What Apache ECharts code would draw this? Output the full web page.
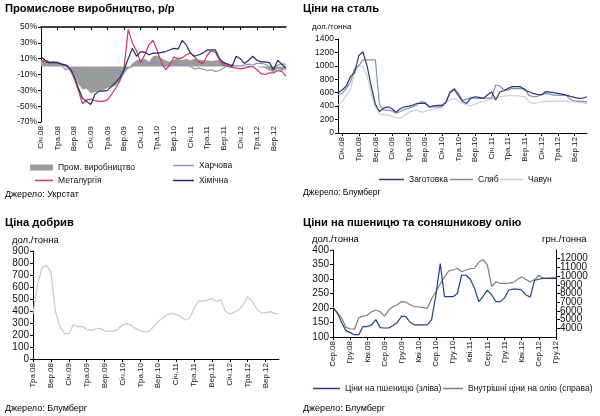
<!DOCTYPE html>
<html>
<head>
<meta charset="utf-8">
<script src="https://cdn.jsdelivr.net/npm/echarts@6/dist/echarts.min.js"></script>
<style>
html,body{margin:0;padding:0;background:#fff}
#main{width:600px;height:416px}
</style>
</head>
<body>
<div id="main"></div>
<script>
var FONT = 'Liberation Sans, Arial, sans-serif';
var monthNames = ['Січ','Лют','Бер','Кві','Тра','Чер','Лип','Сер','Вер','Жов','Лис','Гру'];

// промислове виробництво, р/р, % (січ.08 - гру.12)
var prodIndex = [8,7,6,6,6,4,3,0,-10,-22,-29,-28, -34,-32,-31,-30,-27,-26,-24,-18,-10,-2,4,8,
  9,10,6,13,14,11,8,6,9,10,8,10, 8,10,9,8,8,7,8,8,6,4,3,1, 0,1,-1,0,0,-1,-2,-5,-7,-3,-5,-4];
var foodIndex = [12,8,6,5,5,1,-4,-4,-7,-12,-15,-14, -14,-11,-13,-10,-8,-5,-7,-10,-4,-2,0,6,
  4,5,3,4,5,2,1,2,4,3,2,3, 0,-3,-2,-3,-5,-4,-6,-5,-2,3,2,1, 1,2,3,2,4,4,3,0,-2,2,3,3];
var metalIndex = [8,6,5,6,5,3,1,-4,-15,-30,-47,-42, -41,-43,-44,-44,-42,-35,-27,-18,-2,47,30,20,
  5,15,28,33,20,5,-4,2,12,10,11,15, 17,12,6,4,14,20,18,8,2,0,-1,-2, -3,-2,0,0,-4,-9,-10,-8,-8,-5,-6,-12];
var chemIndex = [12,8,5,5,5,3,2,-2,-12,-27,-40,-44, -48,-35,-31,-31,-30,-25,-20,-14,-4,10,23,13,
  19,18,15,17,17,18,19,21,23,22,33,27, 17,13,15,17,21,21,21,10,5,3,0,13, 10,4,8,13,8,6,6,5,-4,8,3,-2];

// ціни на сталь, дол./т (гру.07 - гру.12)
var billet = [600, 640,700,840,900,1150,1210,1000,700,430,320,370,390,
  360,310,360,390,400,415,440,440,440,390,405,410,
  410,460,600,650,560,470,440,520,540,530,515,565,
  615,490,610,630,665,690,690,690,640,615,590,575,
  570,615,610,600,590,580,565,545,530,515,520,540];
var slab = [570, 590,660,760,960,1000,1090,1090,1090,1090,420,340,340,
  330,295,320,350,370,390,415,465,460,390,390,390,
  390,450,615,665,590,480,505,520,520,515,520,520,
  520,715,700,640,640,665,660,665,660,560,540,545,
  570,590,580,565,565,560,560,500,480,475,470,465];
var pigIron = [420, 460,560,650,900,1000,990,850,600,390,280,270,270,
  250,230,220,260,310,330,340,310,320,340,350,370,
  390,450,500,510,470,440,420,405,430,460,470,490,
  510,520,540,550,555,555,555,550,540,470,440,450,
  465,470,470,470,475,475,470,465,465,460,450,440];

// ціна добрив, дол./т (тра.08 - гру.12)
var fertilizer = [376,620,760,780,725,400,270,215,210,285,270,272,245,240,250,255,235,232,232,250,
  285,295,280,255,235,225,230,270,315,340,370,380,370,355,325,340,420,482,482,490,
  505,480,490,400,376,390,410,450,520,480,420,385,385,395,380,375];

// пшениця, дол./т (зліва) та олія, грн./т (справа), сер.08 - гру.12
var wheat = [199,185,150,122,115,108,108,136,136,142,160,132,131,131,140,150,172,170,150,142,
  142,142,142,160,245,353,239,239,239,250,313,313,300,268,222,240,262,245,222,222,
  235,262,265,265,262,245,238,295,300,302,302,302,302];
var sunOil = [6500,5700,5200,4100,3950,3900,5200,5400,5500,5900,6100,5900,5400,6100,6500,6700,7070,7000,6700,6500,
  6450,6400,6300,7400,8200,9100,9900,10600,10700,10900,10500,10700,10850,10900,11600,11900,11300,8800,9350,9160,
  9160,9200,9250,9600,9900,9600,9350,9600,10100,9730,9730,9800,9900];

function monthCats(year, month, count) {
  var out = [];
  for (var i = 0; i < count; i++) {
    var m = (month + i) % 12;
    var y = year + Math.floor((month + i) / 12);
    out.push(monthNames[m] + '.' + String(y % 100).padStart(2, '0'));
  }
  return out;
}

var catsProd = monthCats(2008, 0, 60);
var catsSteel = monthCats(2007, 11, 61);
var catsFert = monthCats(2008, 4, 56);
var catsWheat = monthCats(2008, 7, 53);

var every4 = function (i) { return i % 4 === 0; };
var every4from1 = function (i) { return i % 4 === 1; };
var plain = function (v) { return String(v); };
var pct = function (v) { return v + '%'; };

function catAxis(grid, data, step, extra) {
  return Object.assign({
    type: 'category', gridIndex: grid, data: data, boundaryGap: false,
    axisLine: { onZero: false, lineStyle: { color: '#000', width: 1 } },
    axisTick: { interval: step, length: 3, lineStyle: { color: '#000' } },
    axisLabel: { interval: step, rotate: 90, fontSize: 8, color: '#111', fontFamily: FONT, margin: 4 },
    splitLine: { show: false }
  }, extra || {});
}

function valAxis(grid, min, max, step, fmt, size, extra) {
  return Object.assign({
    type: 'value', gridIndex: grid, min: min, max: max, interval: step,
    axisLine: { show: true, lineStyle: { color: '#000', width: 1 } },
    axisTick: { show: true, length: 3, lineStyle: { color: '#000' } },
    axisLabel: { fontSize: size, color: '#111', fontFamily: FONT, margin: 4, formatter: fmt },
    splitLine: { show: false }
  }, extra || {});
}

function lineSeries(name, xi, yi, data, color, width) {
  return {
    type: 'line', name: name, xAxisIndex: xi, yAxisIndex: yi, data: data,
    symbol: 'none', lineStyle: { color: color, width: width || 1.2 },
    itemStyle: { color: color }, animation: false
  };
}

function legendAt(name, left, top, w, box) {
  return {
    data: [{ name: name, icon: 'rect' }], left: left, top: top, padding: 0, itemGap: 0,
    itemWidth: w, itemHeight: box ? 6 : 1.5, selectedMode: false,
    textStyle: { fontSize: 8.5, color: '#111', fontFamily: FONT }
  };
}

function label(text, x, y, size, bold) {
  return {
    type: 'text', x: x, y: y,
    style: {
      text: text, fill: '#000', verticalAlign: 'middle',
      font: (bold ? 'bold ' : '') + size + 'px ' + FONT
    }
  };
}

function gridAt(left, top, width, height) {
  return { left: left, top: top, width: width, height: height, containLabel: false, outerBoundsMode: 'none' };
}

var chart = echarts.init(document.getElementById('main'), null, { renderer: 'canvas' });

chart.setOption({
  animation: false,
  backgroundColor: '#fff',
  graphic: [
    label('Промислове виробництво, р/р', 5, 9, 11.2, true),
    label('Ціни на сталь', 303, 9, 11.2, true),
    label('Ціна добрив', 5, 223, 11.2, true),
    label('Ціни на пшеницю та соняшникову олію', 303, 223, 11.2, true),
    label('дол./тонна', 312, 27, 8),
    label('дол./тонна', 12, 240, 9.5),
    label('дол./тонна', 312, 239, 9.5),
    label('грн./тонна', 542, 239, 9.5),
    label('Джерело: Укрстат', 5, 195, 9),
    label('Джерело: Блумберг', 303, 193, 8.5),
    label('Джерело: Блумберг', 5, 409, 9),
    label('Джерело: Блумберг', 303, 409, 9)
  ],
  legend: [
    legendAt('Пром. виробництво', 30, 163, 23, true),
    legendAt('Харчова', 173, 161, 21),
    legendAt('Металургія', 35, 176, 18),
    legendAt('Хімічна', 173, 176, 21),
    legendAt('Заготовка', 379, 175, 25),
    legendAt('Сляб', 450, 175, 23),
    legendAt('Чавун', 500, 175, 23),
    legendAt('Ціни на пшеницю (зліва)', 313, 384, 27),
    legendAt('Внутрішні ціни на олію (справа)', 443, 384, 20)
  ],
  grid: [
    gridAt(41, 27, 245, 95),
    gridAt(338, 39, 249, 94),
    gridAt(33, 251, 246, 108),
    gridAt(333, 250, 223, 87)
  ],
  xAxis: [
    catAxis(0, catsProd, every4, { axisLine: { show: false }, axisTick: { show: false } }),
    catAxis(0, catsProd, every4, {
      position: 'top', z: 5,
      axisLine: { onZero: true, lineStyle: { color: '#000', width: 1.5 } },
      axisTick: { interval: every4, inside: true, length: 3, lineStyle: { color: '#000' } },
      axisLabel: { show: false }
    }),
    catAxis(1, catsSteel, every4from1),
    catAxis(2, catsFert, every4),
    catAxis(3, catsWheat, every4)
  ],
  yAxis: [
    valAxis(0, -70, 50, 20, pct, 8.5),
    valAxis(1, 0, 1400, 200, plain, 8.5),
    valAxis(2, 0, 900, 100, plain, 10),
    valAxis(3, 100, 400, 50, plain, 10),
    valAxis(3, 3000, 13000, 1000, plain, 10, {
      position: 'right',
      axisTick: { show: true, length: 4, lineStyle: { color: '#000' } }
    })
  ],
  series: [
    {
      type: 'line', name: 'Пром. виробництво', xAxisIndex: 0, yAxisIndex: 0, data: prodIndex,
      symbol: 'none', lineStyle: { width: 0 }, itemStyle: { color: '#9b9b9b' },
      areaStyle: { color: '#9b9b9b', opacity: 1 }
    },
    lineSeries('Харчова', 0, 0, foodIndex, '#8698c0'),
    lineSeries('Металургія', 0, 0, metalIndex, '#d2336f'),
    lineSeries('Хімічна', 0, 0, chemIndex, '#1e3160'),
    lineSeries('Чавун', 2, 1, pigIron, '#c6cfe2'),
    lineSeries('Сляб', 2, 1, slab, '#7d90b6'),
    lineSeries('Заготовка', 2, 1, billet, '#2c3d6c'),
    lineSeries('Ціна добрив', 3, 2, fertilizer, '#bfcadf'),
    lineSeries('Внутрішні ціни на олію (справа)', 4, 4, sunOil, '#7f7f7f'),
    lineSeries('Ціни на пшеницю (зліва)', 4, 3, wheat, '#23427e')
  ]
});
</script>
</body>
</html>
